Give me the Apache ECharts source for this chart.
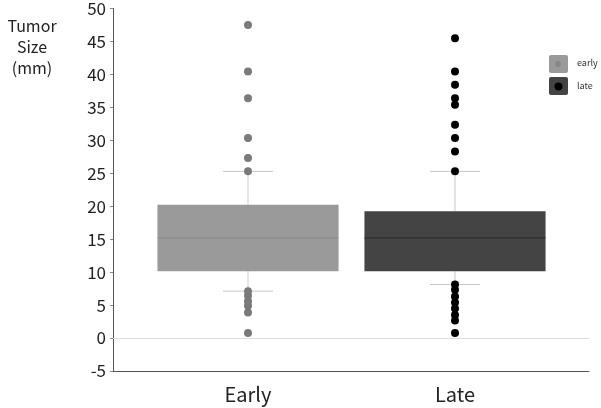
<!DOCTYPE html>
<html style="height: 100%">
<head>
    <meta charset="utf-8">
</head>
<body style="height: 100%; margin: 0; background: #fff">
<div id="container" style="width: 601px; height: 408px"></div>
<script type="text/javascript" src="https://cdn.jsdelivr.net/npm/echarts@6/dist/echarts.min.js"></script>
<script type="text/javascript">
    // data
    var categories = ['Early', 'Late'];
    // [lower whisker, q1, median, q3, upper whisker]
    var earlyBox = [7, 10, 15, 20, 25];
    var lateBox = [8, 10, 15, 19, 25];
    var earlyOutliers = [47, 40, 36, 30, 27, 25, 7, 6.3, 5.5, 4.8, 3.8, 0.7];
    var lateOutliers = [45, 40, 38, 36, 35, 32, 30, 28, 25, 8, 7.2, 6.2, 5.3, 4.4, 3.4, 2.6, 0.7];
    var yTicks = {min: -5, max: 50, step: 5};

    var FONT = '"Noto Sans CJK JP", "Noto Sans", sans-serif';
    var boxFill = ['#9a9a9a', '#444444'];
    var medianColor = ['#888888', '#2a2a2a'];
    var dotColor = ['#7a7a7a', '#000000'];

    var dom = document.getElementById("container");
    var myChart = echarts.init(dom);

    function renderBox(params, api) {
        var i = api.value(0);
        var band = api.size([1, 0])[0];
        var half = band * 0.875 / 2;
        var capHalf = 25;
        var lo = api.coord([i, api.value(1)]);
        var q1 = api.coord([i, api.value(2)]);
        var med = api.coord([i, api.value(3)]);
        var q3 = api.coord([i, api.value(4)]);
        var hi = api.coord([i, api.value(5)]);
        var x = lo[0];
        var thin = {stroke: '#c8c8c8', lineWidth: 1};
        return {
            type: 'group',
            children: [
                {type: 'line', shape: {x1: x, y1: q3[1], x2: x, y2: hi[1]}, style: thin},
                {type: 'line', shape: {x1: x, y1: lo[1], x2: x, y2: q1[1]}, style: thin},
                {type: 'line', shape: {x1: x - capHalf, y1: hi[1], x2: x + capHalf, y2: hi[1]}, style: thin},
                {type: 'line', shape: {x1: x - capHalf, y1: lo[1], x2: x + capHalf, y2: lo[1]}, style: thin},
                {type: 'rect', shape: {x: x - half, y: q3[1], width: half * 2, height: q1[1] - q3[1]},
                    style: {fill: boxFill[i]}},
                {type: 'line', shape: {x1: x - half, y1: med[1], x2: x + half, y2: med[1]},
                    style: {stroke: medianColor[i], lineWidth: 1}}
            ]
        };
    }

    var boxData = [[0].concat(earlyBox), [1].concat(lateBox)];

    var option = {
        animation: false,
        backgroundColor: '#fff',
        textStyle: {fontFamily: FONT},
        grid: [
            {left: 113, right: 12, top: 5, bottom: 37},
            {left: 144.5, right: 42.5, top: 5, bottom: 37}
        ],
        xAxis: [
            {
                gridIndex: 0, type: 'value', min: 0, max: 1,
                axisLine: {show: true, onZero: false, lineStyle: {color: '#555', width: 1}},
                axisTick: {show: false}, axisLabel: {show: false}, splitLine: {show: false}
            },
            {
                gridIndex: 1, type: 'category', data: categories,
                axisLine: {show: false}, axisTick: {show: false},
                axisLabel: {fontSize: 20, color: '#222', margin: 13, fontFamily: FONT},
                splitLine: {show: false}
            }
        ],
        yAxis: [
            {
                gridIndex: 0, type: 'value', min: yTicks.min, max: yTicks.max, interval: yTicks.step,
                axisLine: {show: true, onZero: false, lineStyle: {color: '#555', width: 1}},
                axisTick: {show: true, length: 3, lineStyle: {color: '#888'}},
                axisLabel: {fontSize: 17, color: '#222', margin: 7, fontFamily: FONT},
                splitLine: {show: false}
            },
            {
                gridIndex: 1, type: 'value', min: yTicks.min, max: yTicks.max, interval: yTicks.step,
                show: false, splitLine: {show: false}
            }
        ],
        series: [
            {
                type: 'line', xAxisIndex: 0, yAxisIndex: 0, data: [], silent: true,
                markLine: {
                    silent: true, symbol: 'none', label: {show: false},
                    lineStyle: {color: '#dddddd', width: 1, type: 'solid'},
                    data: [{yAxis: 0}]
                }
            },
            {
                type: 'custom', xAxisIndex: 1, yAxisIndex: 1,
                renderItem: renderBox, data: boxData,
                encode: {x: 0, y: [1, 2, 3, 4, 5]}
            },
            {
                name: 'early', type: 'scatter', xAxisIndex: 1, yAxisIndex: 1, symbolSize: 8, z: 5,
                itemStyle: {color: dotColor[0], opacity: 1},
                data: earlyOutliers.map(function (v) { return [categories[0], v]; })
            },
            {
                name: 'late', type: 'scatter', xAxisIndex: 1, yAxisIndex: 1, symbolSize: 8, z: 5,
                itemStyle: {color: dotColor[1], opacity: 1},
                data: lateOutliers.map(function (v) { return [categories[1], v]; })
            }
        ],
        graphic: [
            {
                type: 'text', x: 32, y: 15,
                style: {text: 'Tumor\nSize\n(mm)', font: '16px ' + FONT, fill: '#222',
                    align: 'center', verticalAlign: 'top', lineHeight: 21}
            },
            {type: 'rect', left: 549, top: 55, shape: {width: 19, height: 18, r: 2}, style: {fill: '#9a9a9a'}},
            {type: 'circle', left: 555, top: 61, shape: {r: 3}, style: {fill: '#888'}},
            {type: 'rect', left: 549, top: 77, shape: {width: 19, height: 18, r: 2}, style: {fill: '#444'}},
            {type: 'circle', left: 554.5, top: 82.5, shape: {r: 4}, style: {fill: '#000'}},
            {type: 'text', left: 577, top: 58, style: {text: 'early', font: '9px ' + FONT, fill: '#333'}},
            {type: 'text', left: 577, top: 81, style: {text: 'late', font: '9px ' + FONT, fill: '#333'}}
        ]
    };
    myChart.setOption(option, true);
</script>
</body>
</html>
